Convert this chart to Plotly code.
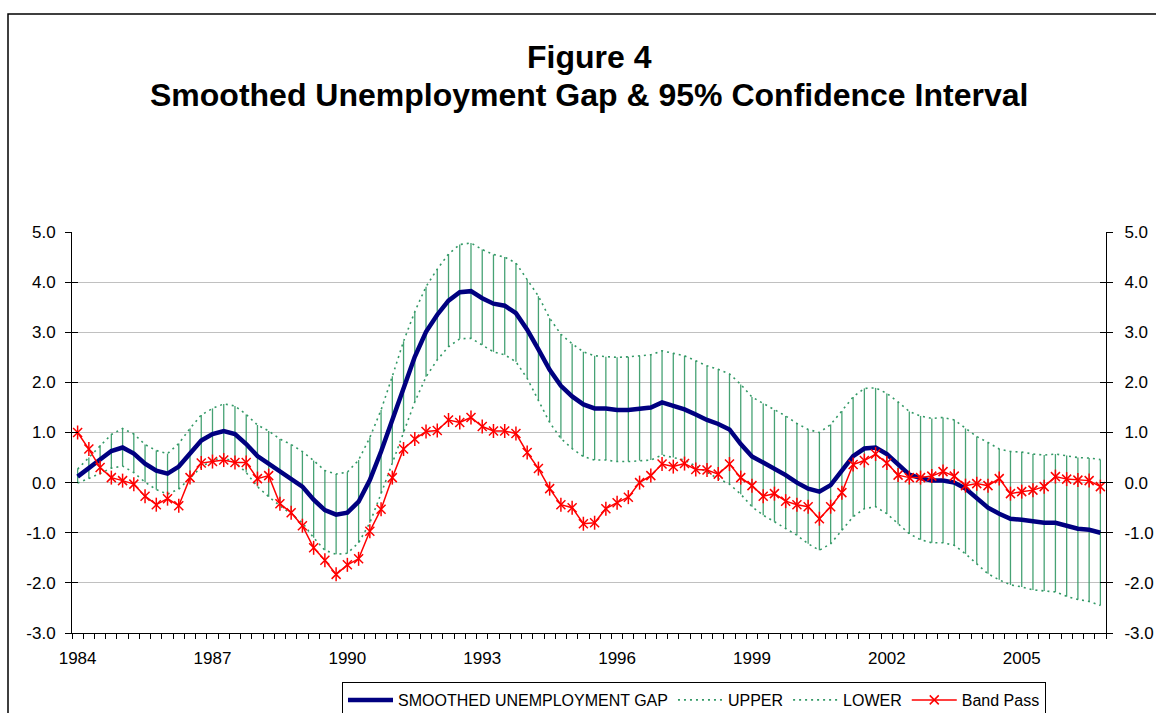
import plotly.graph_objects as go

# ---------------- data (quarterly, 1984Q1 - 2006Q4) ----------------
years = list(range(1984, 2007))
quarters = [f"{y}Q{q}" for y in years for q in range(1, 5)]

smoothed = [0.12, 0.28, 0.46, 0.63, 0.70, 0.58, 0.38, 0.24, 0.18, 0.32,
            0.58, 0.84, 0.97, 1.03, 0.97, 0.77, 0.53, 0.38, 0.21, 0.07,
            -0.08, -0.34, -0.55, -0.64, -0.60, -0.38, 0.05, 0.62, 1.25, 1.92,
            2.51, 3.01, 3.35, 3.63, 3.80, 3.82, 3.68, 3.57, 3.53, 3.38,
            3.05, 2.66, 2.25, 1.93, 1.72, 1.56, 1.48, 1.48, 1.45, 1.45,
            1.48, 1.50, 1.60, 1.53, 1.46, 1.36, 1.25, 1.17, 1.06, 0.77,
            0.52, 0.40, 0.28, 0.15, 0.00, -0.12, -0.18, -0.05, 0.24, 0.53,
            0.68, 0.70, 0.57, 0.35, 0.16, 0.09, 0.04, 0.04, 0.00, -0.12,
            -0.32, -0.50, -0.62, -0.72, -0.74, -0.78, -0.80, -0.80, -0.86, -0.92,
            -0.94, -1.00]

upper = [0.27, 0.50, 0.75, 0.96, 1.08, 0.97, 0.76, 0.64, 0.58, 0.78,
         1.08, 1.35, 1.48, 1.57, 1.53, 1.36, 1.15, 1.03, 0.87, 0.76,
         0.62, 0.44, 0.24, 0.17, 0.21, 0.45, 0.90, 1.45, 2.12, 2.82,
         3.41, 3.91, 4.26, 4.56, 4.75, 4.78, 4.65, 4.55, 4.50, 4.38,
         4.05, 3.72, 3.28, 2.96, 2.77, 2.61, 2.53, 2.51, 2.50, 2.51,
         2.53, 2.55, 2.63, 2.58, 2.53, 2.43, 2.33, 2.26, 2.17, 1.96,
         1.71, 1.58, 1.45, 1.33, 1.18, 1.06, 1.00, 1.16, 1.43, 1.71,
         1.88, 1.89, 1.78, 1.61, 1.42, 1.33, 1.28, 1.30, 1.25, 1.08,
         0.92, 0.80, 0.67, 0.62, 0.61, 0.57, 0.55, 0.57, 0.54, 0.50,
         0.49, 0.46]

lower = [-0.01, 0.08, 0.18, 0.29, 0.33, 0.20, 0.01, -0.14, -0.23, -0.13,
         0.08, 0.31, 0.45, 0.49, 0.41, 0.20, -0.08, -0.28, -0.46, -0.63,
         -0.80, -1.10, -1.35, -1.43, -1.41, -1.20, -0.80, -0.22, 0.38, 1.00,
         1.61, 2.11, 2.45, 2.71, 2.87, 2.88, 2.75, 2.61, 2.55, 2.41,
         2.08, 1.64, 1.20, 0.88, 0.68, 0.52, 0.45, 0.45, 0.42, 0.42,
         0.44, 0.45, 0.55, 0.50, 0.45, 0.33, 0.20, 0.08, -0.03, -0.23,
         -0.48, -0.65, -0.78, -0.92, -1.05, -1.22, -1.35, -1.22, -0.95, -0.68,
         -0.52, -0.48, -0.62, -0.83, -1.02, -1.14, -1.20, -1.20, -1.25, -1.42,
         -1.62, -1.82, -1.94, -2.04, -2.08, -2.14, -2.16, -2.18, -2.27, -2.33,
         -2.37, -2.45]

band_pass = [1.00, 0.67, 0.30, 0.10, 0.04, -0.03, -0.27, -0.44, -0.32, -0.46,
             0.10, 0.39, 0.42, 0.45, 0.40, 0.40, 0.08, 0.14, -0.42, -0.60,
             -0.86, -1.30, -1.55, -1.83, -1.64, -1.52, -0.97, -0.53, 0.10, 0.67,
             0.87, 1.02, 1.04, 1.25, 1.20, 1.30, 1.12, 1.03, 1.03, 0.98,
             0.60, 0.28, -0.12, -0.44, -0.50, -0.82, -0.80, -0.52, -0.40, -0.29,
             0.00, 0.14, 0.37, 0.32, 0.38, 0.26, 0.25, 0.17, 0.37, 0.10,
             -0.06, -0.27, -0.22, -0.37, -0.44, -0.48, -0.72, -0.48, -0.20, 0.36,
             0.44, 0.57, 0.39, 0.15, 0.10, 0.10, 0.13, 0.22, 0.13, -0.06,
             -0.02, -0.06, 0.08, -0.22, -0.18, -0.15, -0.08, 0.12, 0.07, 0.05,
             0.04, -0.08]

label_years = [str(y) for y in range(1984, 2007, 3)]
y_ticks = [-3, -2, -1, 0, 1, 2, 3, 4, 5]
y_tick_text = [f"{v:.1f}" for v in y_ticks]

# ---------------- layout geometry (pixels) ----------------
W, H = 1156, 713
ML, MR, MT, MB = 72, 50, 232, 80
PW, PH = W - ML - MR, H - MT - MB


def px_x(px):
    return (px - ML) / PW


def px_y(py):
    return (H - MB - py) / PH


FONT = "Liberation Sans, Arial, sans-serif"
GREEN = "#339966"

# hi-lo connecting lines
hx, hy = [], []
for q, lo, up in zip(quarters, lower, upper):
    hx += [q, q, None]
    hy += [lo, up, None]

tick_text = [(q[:4] if (q.endswith("Q1") and q[:4] in label_years) else "") for q in quarters]

fig = go.Figure()
fig.add_trace(go.Scatter(x=hx, y=hy, mode="lines", line=dict(color=GREEN, width=1.3),
                         opacity=0.9, showlegend=False, hoverinfo="skip"))
fig.add_trace(go.Scatter(x=quarters, y=smoothed, mode="lines", name="SMOOTHED UNEMPLOYMENT GAP",
                         line=dict(color="#000080", width=4.5)))
fig.add_trace(go.Scatter(x=quarters, y=upper, mode="lines", name="UPPER",
                         line=dict(color=GREEN, width=1.6, dash="2px,4px")))
fig.add_trace(go.Scatter(x=quarters, y=lower, mode="lines", name="LOWER",
                         line=dict(color=GREEN, width=1.6, dash="2px,4px")))
fig.add_trace(go.Scatter(x=quarters, y=band_pass, mode="lines+markers", name="Band Pass",
                         line=dict(color="#FF0000", width=1.5),
                         marker=dict(symbol="x-thin-open", size=9, color="#FF0000",
                                     line=dict(color="#FF0000", width=1.5)),
                         yaxis="y2"))
fig.add_trace(go.Scatter(x=quarters, y=band_pass, mode="markers", showlegend=False,
                         marker=dict(symbol="line-ns-open", size=10, color="#FF0000",
                                     line=dict(color="#FF0000", width=1.5)),
                         hoverinfo="skip", yaxis="y2"))

axis_common = dict(range=[-3, 5], tickmode="array", tickvals=y_ticks, ticktext=y_tick_text,
                   showline=True, linecolor="black", linewidth=1, ticklen=6,
                   tickcolor="black", tickfont=dict(family=FONT, size=17, color="black"),
                   zeroline=False, fixedrange=True)

fig.update_layout(
    width=W, height=H,
    margin=dict(l=ML, r=MR, t=MT, b=MB, autoexpand=False),
    paper_bgcolor="white", plot_bgcolor="white",
    font=dict(family=FONT, color="black"),
    xaxis=dict(type="category", tickmode="array", tickvals=quarters, ticktext=tick_text,
               tickson="boundaries", ticks="outside", ticklen=5, tickcolor="black",
               tickangle=0,
               showline=True, linecolor="black", linewidth=1, showgrid=False,
               tickfont=dict(family=FONT, size=17, color="black"), ticklabelstandoff=10,
               range=[-0.5, len(quarters) - 0.5]),
    yaxis=dict(**axis_common, side="left", ticks="outside", mirror="ticks",
               showgrid=True, gridcolor="#c0c0c0", gridwidth=1, ticklabelstandoff=6),
    yaxis2=dict(**axis_common, side="right", overlaying="y", ticks="inside", mirror="ticks",
                showgrid=False, ticklabelstandoff=14),
    showlegend=True,
    legend=dict(orientation="h", x=px_x(694), xanchor="center", y=px_y(700), yanchor="middle",
                bordercolor="black", borderwidth=1, bgcolor="white", itemwidth=45,
                font=dict(family=FONT, size=16, color="black"), traceorder="normal"),
    annotations=[
        dict(text="<b>Figure 4</b>", x=px_x(589), y=px_y(57), xref="paper", yref="paper",
             xanchor="center", yanchor="middle", showarrow=False,
             font=dict(family=FONT, size=32, color="black")),
        dict(text="<b>Smoothed Unemployment Gap &amp; 95% Confidence Interval</b>",
             x=px_x(589), y=px_y(95), xref="paper", yref="paper",
             xanchor="center", yanchor="middle", showarrow=False,
             font=dict(family=FONT, size=32, color="black")),
    ],
    shapes=[dict(type="rect", xref="paper", yref="paper",
                 x0=px_x(8), x1=px_x(1175), y0=px_y(730), y1=px_y(14),
                 line=dict(color="black", width=1.5), fillcolor="rgba(0,0,0,0)", layer="below")],
)

fig.write_html("out.html", config={"displayModeBar": False},
               post_script="document.body.style.margin='0';document.body.style.padding='0';")
